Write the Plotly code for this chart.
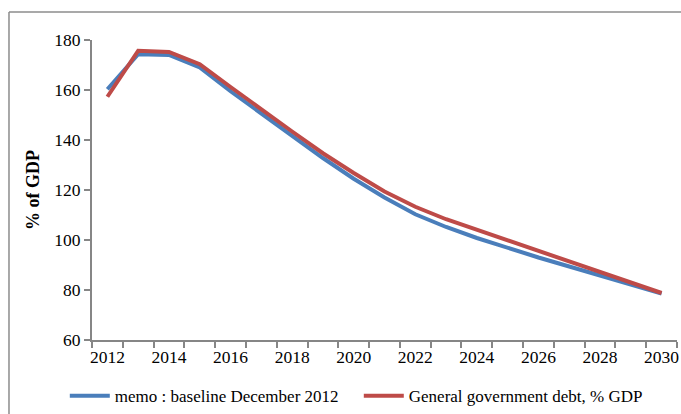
import plotly.graph_objects as go

# Debt ratio projections, % of GDP
years = list(range(2012, 2031))
baseline_dec_2012 = [160.3, 174.3, 174.0, 169.0, 159.5, 150.7, 142.0, 132.8, 124.5,
                     117.0, 110.3, 105.2, 100.8, 96.8, 93.0, 89.4, 85.9, 82.2, 78.6]
gov_debt = [157.3, 175.7, 175.2, 170.3, 161.2, 152.2, 143.4, 134.7, 126.8,
            119.4, 113.3, 108.3, 104.1, 100.0, 96.0, 91.7, 87.6, 83.2, 78.8]

tick_years = list(range(2012, 2031, 2))
y_ticks = [60, 80, 100, 120, 140, 160, 180]

FONT = "Liberation Serif, Times New Roman, serif"
AXIS_GREY = "#868686"

fig = go.Figure()
fig.add_trace(go.Scatter(
    x=years, y=baseline_dec_2012, mode="lines",
    name="memo : baseline December 2012",
    line=dict(color="#4A7EBB", width=4),
))
fig.add_trace(go.Scatter(
    x=years, y=gov_debt, mode="lines",
    name="General government debt, % GDP",
    line=dict(color="#BE4B48", width=4),
))

fig.update_layout(
    width=681, height=414,
    margin=dict(l=92, r=4, t=40, b=74, autoexpand=False),
    paper_bgcolor="white", plot_bgcolor="white",
    font=dict(family=FONT, size=17, color="black"),
    showlegend=True,
    legend=dict(
        orientation="h", x=-0.0465, xanchor="left", y=-0.187, yanchor="middle",
        font=dict(family=FONT, size=17, color="black"),
        entrywidth=239, entrywidthmode="pixels",
        itemwidth=40, tracegroupgap=0, bgcolor="rgba(0,0,0,0)",
    ),
    xaxis=dict(
        range=[2011.5, 2030.5], showgrid=False, zeroline=False,
        showline=True, linecolor=AXIS_GREY, linewidth=2,
        tickmode="array", tickvals=tick_years, ticktext=[str(t) for t in tick_years],
        ticks="", tickfont=dict(family=FONT, size=17.5),
        minor=dict(tickmode="array",
                   tickvals=[y - 0.5 for y in years] + [years[-1] + 0.5],
                   ticks="outside", ticklen=6, tickwidth=1.5, tickcolor=AXIS_GREY,
                   showgrid=False),
    ),
    yaxis=dict(
        range=[60, 180], showgrid=False, zeroline=False,
        showline=True, linecolor=AXIS_GREY, linewidth=2,
        tickmode="array", tickvals=y_ticks,
        ticks="outside", ticklen=6, tickwidth=1.5, tickcolor=AXIS_GREY,
        tickfont=dict(family=FONT, size=17.5),
        title=dict(text="<b>% of GDP</b>", font=dict(family=FONT, size=18), standoff=10),
    ),
    shapes=[
        # chart frame: top and left edges
        dict(type="line", xref="paper", yref="paper",
             x0=-0.1419, x1=1.1, y0=1.0933, y1=1.0933,
             line=dict(color="#8C8C8C", width=1.5)),
        dict(type="line", xref="paper", yref="paper",
             x0=-0.1419, x1=-0.1419, y0=1.0933, y1=-0.35,
             line=dict(color="#8C8C8C", width=1.5)),
    ],
)

fig.write_html("out.html")
